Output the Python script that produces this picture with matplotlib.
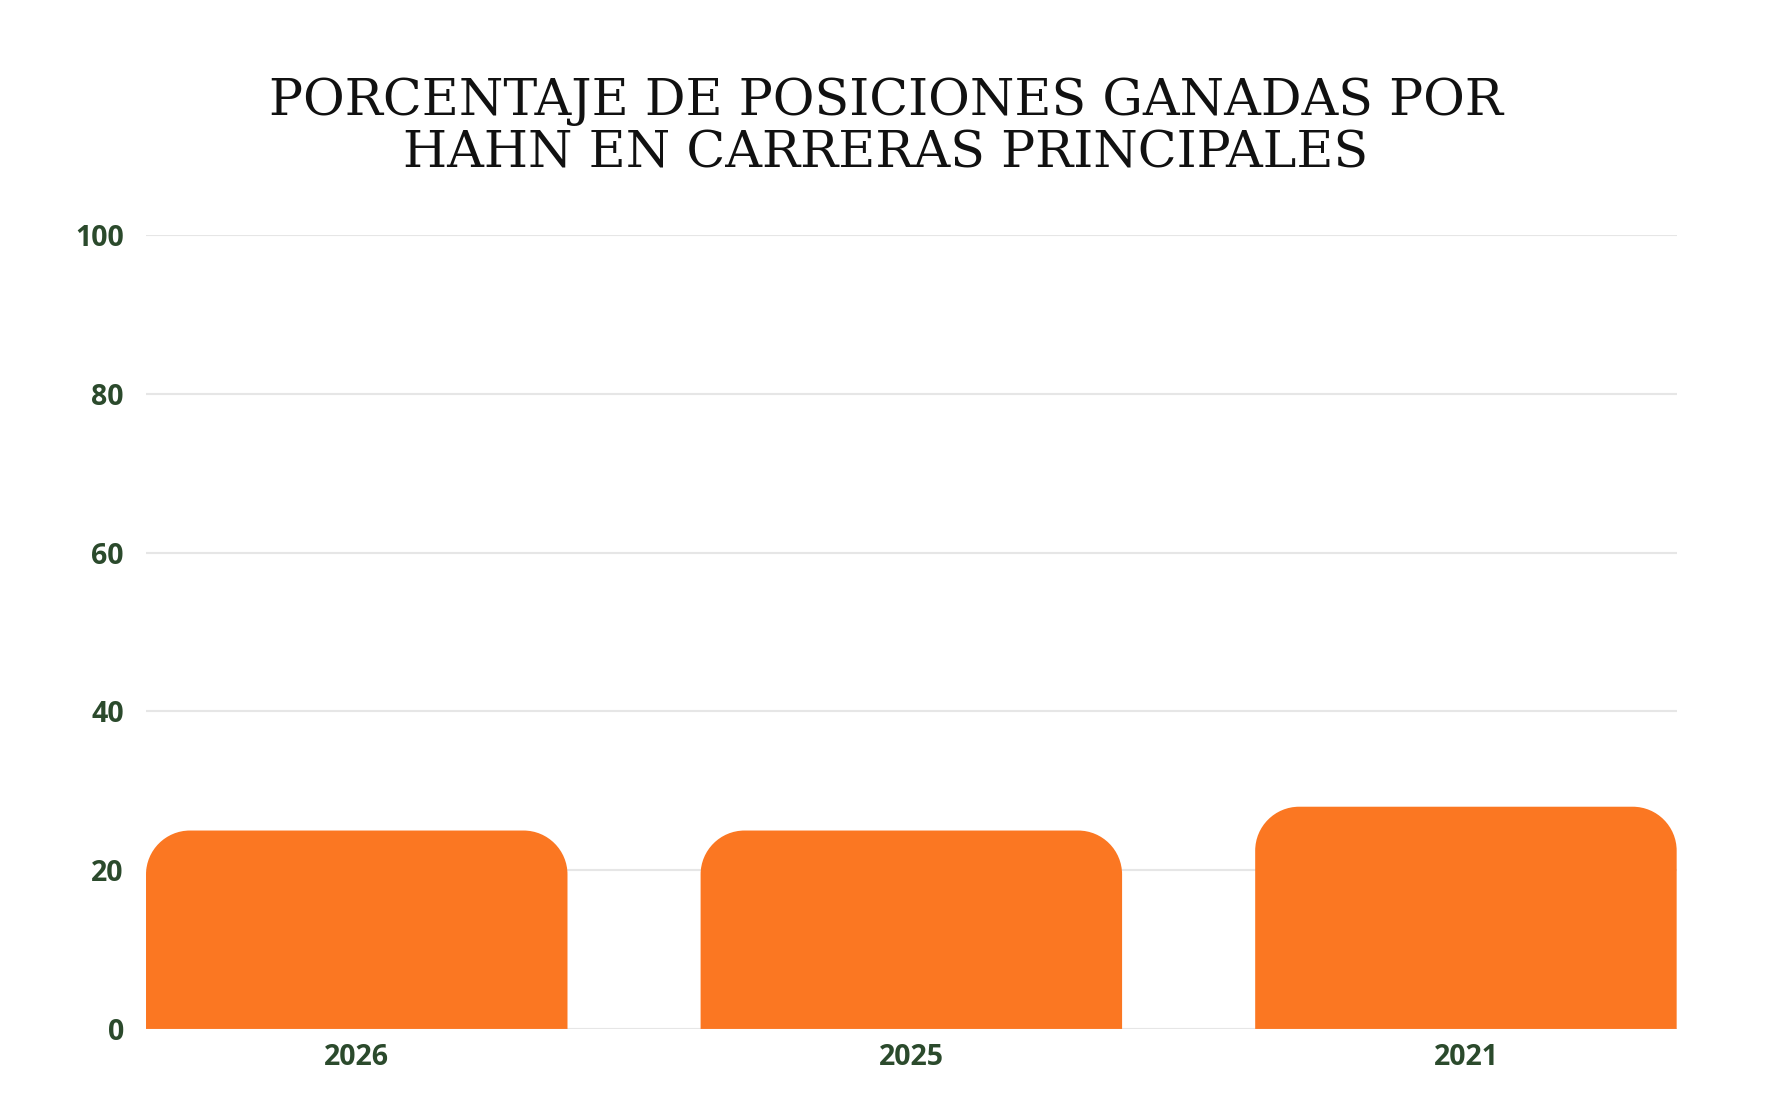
import matplotlib
matplotlib.use("Agg")
import matplotlib.pyplot as plt
from matplotlib.path import Path
from matplotlib.patches import PathPatch

# datos
years = ["2026", "2025", "2021"]
pct = [25, 25, 28]
y_ticks = [0, 20, 40, 60, 80, 100]
title_lines = ["PORCENTAJE DE POSICIONES GANADAS POR", "HAHN EN CARRERAS PRINCIPALES"]

bar_color = "#fb7722"
label_color = "#2b4a2c"

fig = plt.figure(figsize=(17.72, 10.98), dpi=100)
ax = fig.add_axes([0.0824, 0.0629, 0.8638, 0.7228])

bars = ax.bar(range(len(years)), pct, width=0.76, color=bar_color)
ax.set_xlim(-0.38, len(years) - 1 + 0.38)
ax.set_ylim(0, 100)
ax.set_yticks(y_ticks)
ax.set_xticks(range(len(years)))
ax.set_xticklabels(years)

ax.grid(axis="y", color="#e6e6e6", linewidth=1.5)
ax.set_axisbelow(True)
for s in ax.spines.values():
    s.set_visible(False)
ax.tick_params(length=0)
ax.tick_params(axis="y", pad=16)
ax.tick_params(axis="x", pad=10)
for lab in ax.get_xticklabels() + ax.get_yticklabels():
    lab.set_fontfamily("Open Sans")
    lab.set_fontweight("bold")
    lab.set_fontsize(20.5)
    lab.set_color(label_color)

# esquinas superiores redondeadas (en pixeles)
r = 44
for b in bars:
    (x0, y0), (x1, y1) = ax.transData.transform([(b.get_x(), 0),
                                                 (b.get_x() + b.get_width(), b.get_height())])
    k = 0.5523 * r
    verts = [(x0, y0), (x0, y1 - r),
             (x0, y1 - r + k), (x0 + r - k, y1), (x0 + r, y1),
             (x1 - r, y1),
             (x1 - r + k, y1), (x1, y1 - r + k), (x1, y1 - r),
             (x1, y0), (x0, y0)]
    codes = [Path.MOVETO, Path.LINETO,
             Path.CURVE4, Path.CURVE4, Path.CURVE4,
             Path.LINETO,
             Path.CURVE4, Path.CURVE4, Path.CURVE4,
             Path.LINETO, Path.CLOSEPOLY]
    patch = PathPatch(Path(verts, codes), facecolor=bar_color, edgecolor="none",
                      transform=None, zorder=3)
    fig.add_artist(patch)
    b.set_visible(False)

fig.text(0.5, 0.9075, title_lines[0], ha="center", va="center",
         fontfamily="DejaVu Serif", fontsize=36.5, color="#111111")
fig.text(0.5, 0.8595, title_lines[1], ha="center", va="center",
         fontfamily="DejaVu Serif", fontsize=36.5, color="#111111")

fig.savefig("out.png", dpi=100, facecolor="white")
